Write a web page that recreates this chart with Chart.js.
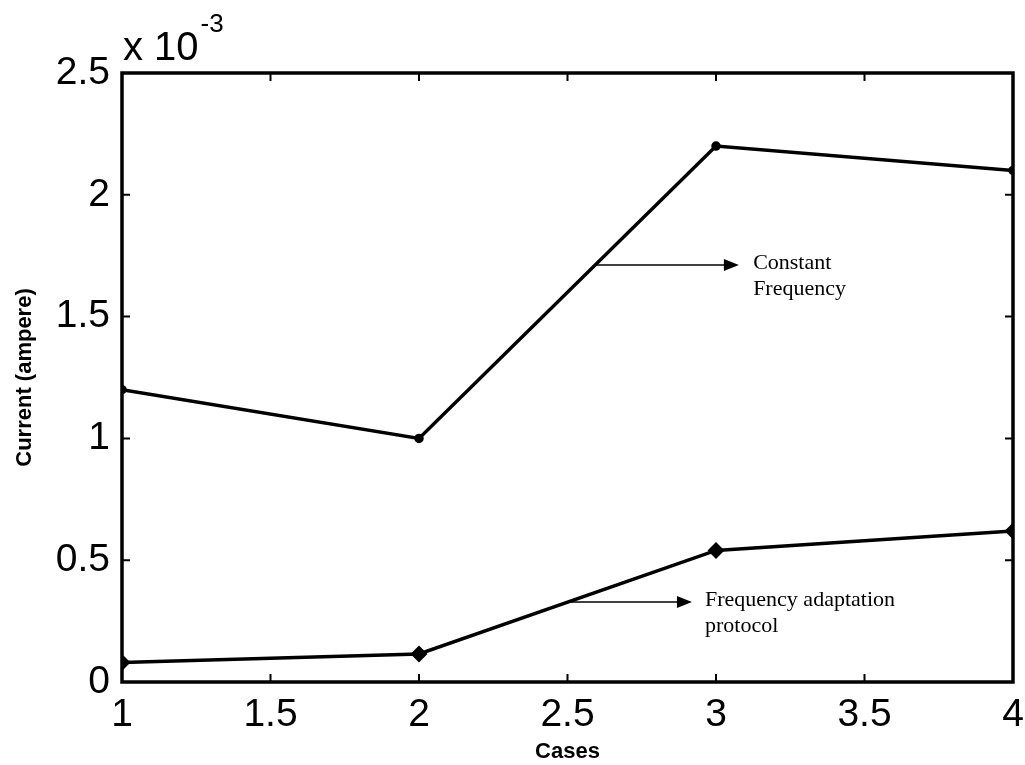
<!DOCTYPE html>
<html>
<head>
<meta charset="utf-8">
<script src="https://cdn.jsdelivr.net/npm/chart.js@4.4.1/dist/chart.umd.min.js"></script>
<style>
  html, body { margin: 0; padding: 0; background: #fff; }
  canvas { display: block; }
</style>
</head>
<body>
<canvas id="chart" width="1025" height="765"></canvas>
<script>
// cases on the x axis
const cases = [1, 2, 3, 4];
// current in ampere
const constantFreq = [1.2e-3, 1.0e-3, 2.2e-3, 2.1e-3];
const adaptation = [0.08e-3, 0.115e-3, 0.54e-3, 0.62e-3];

const xTicks = [1, 1.5, 2, 2.5, 3, 3.5, 4];
const yTicks = [0, 0.5e-3, 1e-3, 1.5e-3, 2e-3, 2.5e-3];

// arrow labels: x start, x tip, x text, y level, lines
const notes = [
    { x0: 2.593, x1: 3.077, tx: 3.125, y: 1.712e-3, lines: ['Constant', 'Frequency'] },
    { x0: 2.508, x1: 2.919, tx: 2.963, y: 0.328e-3, lines: ['Frequency adaptation', 'protocol'] }
];

function toPoints(ys) {
    return cases.map((c, i) => ({ x: c, y: ys[i] }));
}

const boxPlugin = {
    id: 'box',
    afterDatasetsDraw(chart) {
        const ctx = chart.ctx;
        const a = chart.chartArea;
        const xs = chart.scales.x, ys = chart.scales.y;
        ctx.save();
        ctx.strokeStyle = '#000';

        // inward tick marks on all four sides
        ctx.lineWidth = 2;
        ctx.beginPath();
        xTicks.forEach(v => {
            const px = xs.getPixelForValue(v);
            ctx.moveTo(px, a.bottom); ctx.lineTo(px, a.bottom - 8);
            ctx.moveTo(px, a.top); ctx.lineTo(px, a.top + 8);
        });
        yTicks.forEach(v => {
            const py = ys.getPixelForValue(v);
            ctx.moveTo(a.left, py); ctx.lineTo(a.left + 8, py);
            ctx.moveTo(a.right, py); ctx.lineTo(a.right - 8, py);
        });
        ctx.stroke();

        // frame
        ctx.lineWidth = 3.5;
        ctx.strokeRect(a.left, a.top, a.right - a.left, a.bottom - a.top);

        // arrows with labels
        ctx.lineWidth = 1.5;
        ctx.fillStyle = '#000';
        ctx.font = '22px "Liberation Serif", "Times New Roman", serif';
        ctx.textBaseline = 'middle';
        ctx.textAlign = 'left';
        notes.forEach(n => {
            const x0 = xs.getPixelForValue(n.x0);
            const x1 = xs.getPixelForValue(n.x1);
            const y = ys.getPixelForValue(n.y);
            ctx.beginPath();
            ctx.moveTo(x0, y); ctx.lineTo(x1 - 14, y);
            ctx.stroke();
            ctx.beginPath();
            ctx.moveTo(x1, y); ctx.lineTo(x1 - 15, y - 6); ctx.lineTo(x1 - 15, y + 6);
            ctx.closePath();
            ctx.fill();
            const tx = xs.getPixelForValue(n.tx);
            n.lines.forEach((t, i) => ctx.fillText(t, tx, y - 2 + i * 26));
        });

        // exponent label
        ctx.textBaseline = 'alphabetic';
        ctx.font = '40px "Liberation Sans", Arial, sans-serif';
        ctx.fillText('x 10', a.left + 1, a.top - 13);
        const w = ctx.measureText('x 10').width;
        ctx.font = '26px "Liberation Sans", Arial, sans-serif';
        ctx.fillText('-3', a.left + 1 + w + 2, a.top - 41);
        ctx.restore();
    }
};

new Chart(document.getElementById('chart'), {
    type: 'line',
    data: {
        datasets: [
            {
                label: 'Constant Frequency',
                data: toPoints(constantFreq),
                borderColor: '#000',
                backgroundColor: '#000',
                borderWidth: 3.5,
                pointStyle: 'circle',
                pointRadius: 3,
                tension: 0
            },
            {
                label: 'Frequency adaptation protocol',
                data: toPoints(adaptation),
                borderColor: '#000',
                backgroundColor: '#000',
                borderWidth: 3.5,
                pointStyle: 'rectRot',
                pointRadius: 6,
                tension: 0
            }
        ]
    },
    options: {
        responsive: false,
        animation: false,
        layout: { padding: { top: 73, right: 0, left: 0, bottom: 0 } },
        plugins: {
            legend: { display: false },
            tooltip: { enabled: false }
        },
        scales: {
            x: {
                type: 'linear',
                min: 1,
                max: 4,
                afterFit(scale) {
                    scale.height = 83;
                    scale.paddingRight = 12;
                },
                afterBuildTicks(scale) { scale.ticks = xTicks.map(v => ({ value: v })); },
                grid: { display: false, drawTicks: false },
                border: { display: false },
                ticks: {
                    color: '#000',
                    padding: 10,
                    maxRotation: 0,
                    font: { family: '"Liberation Sans", Arial, sans-serif', size: 39 },
                    callback: v => String(v)
                },
                title: {
                    display: true,
                    text: 'Cases',
                    color: '#000',
                    padding: { top: 0, bottom: 0 },
                    font: { family: '"Liberation Sans", Arial, sans-serif', size: 22, weight: 'bold' }
                }
            },
            y: {
                min: 0,
                max: 2.5e-3,
                afterFit(scale) { scale.width = 122; },
                afterBuildTicks(scale) { scale.ticks = yTicks.map(v => ({ value: v })); },
                grid: { display: false, drawTicks: false },
                border: { display: false },
                ticks: {
                    color: '#000',
                    padding: 12,
                    font: { family: '"Liberation Sans", Arial, sans-serif', size: 39 },
                    callback: v => String(Math.round(v * 1e4) / 10)
                },
                title: {
                    display: true,
                    text: 'Current (ampere)',
                    color: '#000',
                    padding: { top: 12, bottom: 0 },
                    font: { family: '"Liberation Sans", Arial, sans-serif', size: 22, weight: 'bold' }
                }
            }
        }
    },
    plugins: [boxPlugin]
});
</script>
</body>
</html>
